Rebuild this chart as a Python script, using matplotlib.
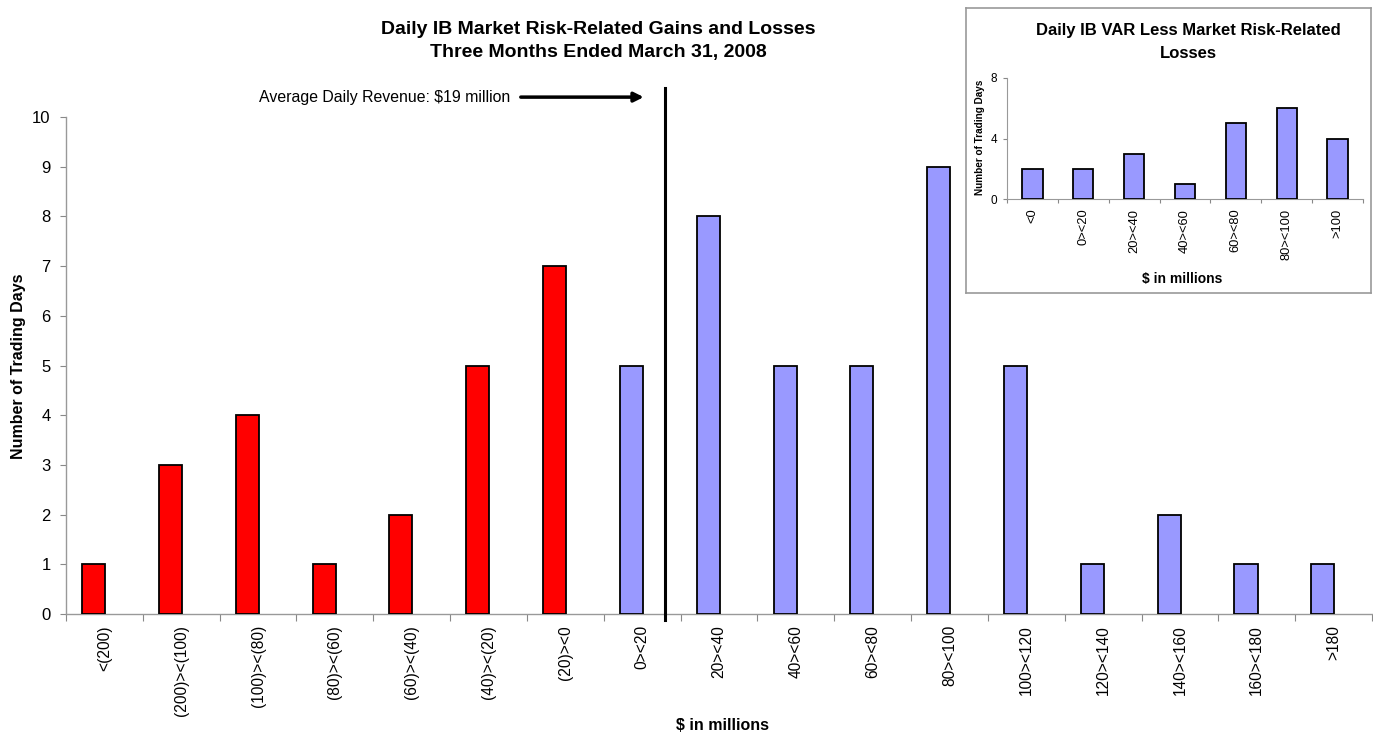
import matplotlib
matplotlib.use("Agg")
import matplotlib.pyplot as plt
import numpy as np

plt.rcParams['font.family'] = ['Liberation Sans', 'DejaVu Sans']

# ---- data ----
main_labels = ["<(200)", "(200)><(100)", "(100)><(80)", "(80)><(60)", "(60)><(40)",
               "(40)><(20)", "(20)><0", "0><20", "20><40", "40><60", "60><80",
               "80><100", "100><120", "120><140", "140><160", "160><180", ">180"]
main_values = [1, 3, 4, 1, 2, 5, 7, 5, 8, 5, 5, 9, 5, 1, 2, 1, 1]
main_colors = ["#FF0000"] * 7 + ["#9999FF"] * 10
avg_revenue_pos = 7.8  # position of $19 million line in category units

inset_labels = ["<0", "0><20", "20><40", "40><60", "60><80", "80><100", ">100"]
inset_values = [2, 2, 3, 1, 5, 6, 4]

W, H = 1373, 733
fig = plt.figure(figsize=(W / 100, H / 100), dpi=100)

def fx(px):
    return px / W

def fy(py):
    return 1 - py / H

# ---- main axes ----
ax = fig.add_axes([fx(66), fy(614), fx(1372) - fx(66), fy(117) - fy(614)])
n = len(main_values)
idx = np.arange(n)
ax.bar(idx + 0.36, main_values, width=0.30, color=main_colors,
       edgecolor="black", linewidth=1.3, zorder=3)
ax.set_xlim(0, n)
ax.set_ylim(0, 10)
ax.set_yticks(range(0, 11))
ax.set_xticks(np.arange(n + 1))
ax.set_xticklabels([])
ax.set_xticks(idx + 0.5, minor=True)
ax.set_xticklabels(main_labels, minor=True, rotation=90, fontsize=11.2, va="top")
ax.tick_params(axis="x", which="minor", length=0, pad=8)
ax.tick_params(axis="x", which="major", length=5, color="#888888")
ax.tick_params(axis="y", length=4, color="#888888", labelsize=12, pad=7)
for s in ["top", "right"]:
    ax.spines[s].set_visible(False)
for s in ["left", "bottom"]:
    ax.spines[s].set_color("#999999")
    ax.spines[s].set_linewidth(1.0)

# average line
ax.plot([avg_revenue_pos, avg_revenue_pos], [-0.12, 10.58], color="black",
        linewidth=2.2, clip_on=False, zorder=4)
ax.annotate("", xy=(7.52, 10.4), xytext=(5.92, 10.4),
            arrowprops=dict(arrowstyle="-|>", color="black", lw=2.5,
                            mutation_scale=14, shrinkA=0, shrinkB=0),
            annotation_clip=False)
ax.text(5.78, 10.4, "Average Daily Revenue: $19 million", ha="right", va="center",
        fontsize=11.4, clip_on=False)

fig.text(fx(598), fy(41), "Daily IB Market Risk-Related Gains and Losses\nThree Months Ended March 31, 2008",
         ha="center", va="center", fontsize=14, fontweight="bold", linespacing=1.45)
fig.text(fx(19), fy(366), "Number of Trading Days", rotation=90, ha="center",
         va="center", fontsize=11.5, fontweight="bold")
fig.text(fx(723), fy(726), "$ in millions", ha="center", va="center",
         fontsize=11.5, fontweight="bold")

# ---- inset box ----
box = fig.add_axes([fx(966), fy(293), fx(1371) - fx(966), fy(8) - fy(293)])
box.set_xticks([])
box.set_yticks([])
box.set_facecolor("white")
for s in box.spines.values():
    s.set_color("#999999")
    s.set_linewidth(1.2)
box.set_zorder(5)

iax = fig.add_axes([fx(1007), fy(199), fx(1363) - fx(1007), fy(78) - fy(199)])
iax.set_zorder(6)
iax.patch.set_alpha(0)
m = len(inset_values)
iidx = np.arange(m)
iax.bar(iidx + 0.5, inset_values, width=0.40, color="#9999FF",
        edgecolor="black", linewidth=1.3, zorder=3)
iax.set_xlim(0, m)
iax.set_ylim(0, 8)
iax.set_yticks([0, 4, 8])
iax.set_xticks(np.arange(m + 1))
iax.set_xticklabels([])
iax.set_xticks(iidx + 0.5, minor=True)
iax.set_xticklabels(inset_labels, minor=True, rotation=90, fontsize=9.3, va="top")
iax.tick_params(axis="x", which="minor", length=0, pad=7)
iax.tick_params(axis="x", which="major", length=3, color="#888888")
iax.tick_params(axis="y", length=3, color="#888888", labelsize=8.5, pad=4)
for s in ["top", "right"]:
    iax.spines[s].set_visible(False)
for s in ["left", "bottom"]:
    iax.spines[s].set_color("#999999")

fig.text(fx(1188), fy(42), "Daily IB VAR Less Market Risk-Related\nLosses", ha="center",
         va="center", fontsize=12, fontweight="bold", linespacing=1.65, zorder=7)
fig.text(fx(980), fy(137), "Number of Trading Days", rotation=90, ha="center",
         va="center", fontsize=7.2, fontweight="bold", zorder=7)
fig.text(fx(1182), fy(279), "$ in millions", ha="center", va="center",
         fontsize=10, fontweight="bold", zorder=7)

fig.savefig("out.png", dpi=100, facecolor="white")
